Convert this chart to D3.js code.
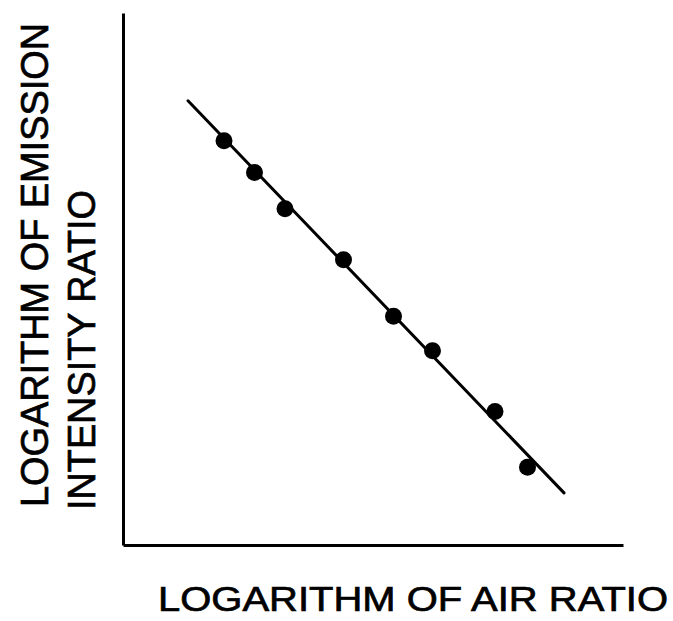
<!DOCTYPE html>
<html>
<head>
<meta charset="utf-8">
<script src="https://cdn.jsdelivr.net/npm/d3@7/dist/d3.min.js"></script>
<style>
  html, body { margin: 0; padding: 0; background: #fff; }
  svg { display: block; }
</style>
</head>
<body>
<script>
// Data (arbitrary log units)
const airRatioLog = [2.02, 2.63, 3.24, 4.41, 5.41, 6.19, 7.44, 8.09];
const emissionLog = [7.60, 7.00, 6.32, 5.36, 4.30, 3.65, 2.51, 1.46];
const fitX = [1.30, 8.82];
const fitY = [8.35, 0.98];
const xLabel = "LOGARITHM OF AIR RATIO";
const yLabelLines = ["LOGARITHM OF EMISSION", "INTENSITY RATIO"];

const W = 673, H = 621;
const svg = d3.select("body").append("svg").attr("width", W).attr("height", H);

const x = d3.scaleLinear().domain([0, 10]).range([123, 623]);
const y = d3.scaleLinear().domain([0, 10]).range([545, 13]);

// Axes (no ticks)
svg.append("g").attr("transform", `translate(0,${y(0)})`)
  .call(d3.axisBottom(x).tickValues([]).tickSizeOuter(0));
svg.append("g").attr("transform", `translate(${x(0)},0)`)
  .call(d3.axisLeft(y).tickValues([]).tickSizeOuter(0));
svg.selectAll(".domain").attr("stroke", "#000").attr("stroke-width", 3);

// Fitted line
const fit = fitX.map((v, i) => [v, fitY[i]]);
svg.append("path")
  .datum(fit)
  .attr("fill", "none")
  .attr("stroke", "#000")
  .attr("stroke-width", 3)
  .attr("stroke-linecap", "round")
  .attr("d", d3.line().x(d => x(d[0])).y(d => y(d[1])));

// Points
const pts = airRatioLog.map((v, i) => [v, emissionLog[i]]);
svg.append("g").selectAll("circle").data(pts).join("circle")
  .attr("cx", d => x(d[0]))
  .attr("cy", d => y(d[1]))
  .attr("r", 8.5)
  .attr("fill", "#000");

const font = "Liberation Sans, Arial, Helvetica, sans-serif";

// X label
svg.append("text")
  .attr("x", 158).attr("y", 611)
  .attr("font-family", font)
  .attr("font-size", 35)
  .attr("textLength", 510)
  .attr("lengthAdjust", "spacingAndGlyphs")
  .attr("fill", "#000")
  .attr("stroke", "#000").attr("stroke-width", 0.7)
  .text(xLabel);

// Y label (two lines, rotated)
const yl = svg.append("g").attr("transform", "translate(0,0)");
yl.append("text")
  .attr("transform", "translate(48,507) rotate(-90)")
  .attr("font-family", font).attr("font-size", 38)
  .attr("textLength", 484).attr("lengthAdjust", "spacingAndGlyphs")
  .attr("fill", "#000").attr("stroke", "#000").attr("stroke-width", 0.7)
  .text(yLabelLines[0]);
yl.append("text")
  .attr("transform", "translate(95,510) rotate(-90)")
  .attr("font-family", font).attr("font-size", 38)
  .attr("textLength", 320).attr("lengthAdjust", "spacingAndGlyphs")
  .attr("fill", "#000").attr("stroke", "#000").attr("stroke-width", 0.7)
  .text(yLabelLines[1]);
</script>
</body>
</html>
